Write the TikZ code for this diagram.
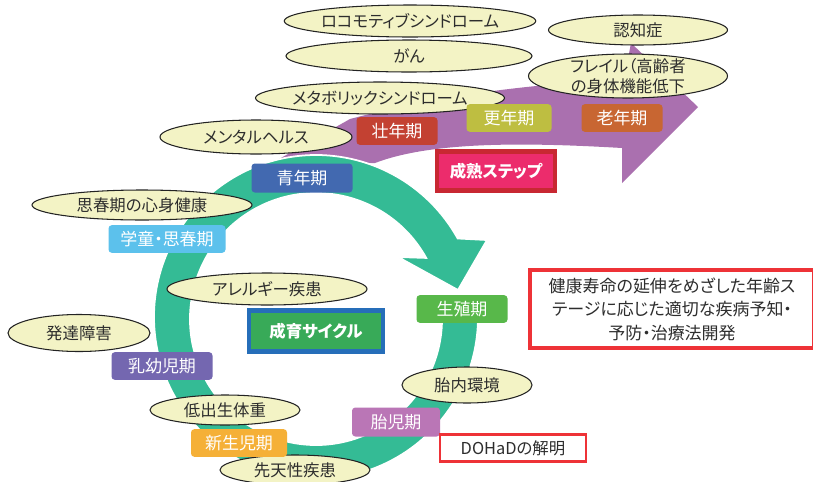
\documentclass[tikz,border=0pt]{standalone}
\usepackage{fontspec}
\setmainfont{Noto Sans CJK JP}[RawFeature=+palt]
\usepackage{tikz}
\usetikzlibrary{
  positioning,
  calc,
  shapes.geometric
}
\definecolor{CycleGreen}{RGB}{52,187,149}
\definecolor{MaturePurple}{RGB}{170,112,175}
\definecolor{PaleYellow}{RGB}{243,243,197}
\definecolor{EdgeDark}{RGB}{35,35,35}
\definecolor{TextDark}{RGB}{45,45,45}
\definecolor{AdultRed}{RGB}{195,65,50}
\definecolor{MenoOlive}{RGB}{190,190,65}
\definecolor{ElderBrown}{RGB}{200,102,50}
\definecolor{YouthBlue}{RGB}{66,105,176}
\definecolor{SchoolCyan}{RGB}{92,193,236}
\definecolor{InfantViolet}{RGB}{116,103,176}
\definecolor{NewbornOrange}{RGB}{245,176,55}
\definecolor{FetusPink}{RGB}{186,118,182}
\definecolor{ReproGreen}{RGB}{88,184,74}
\definecolor{MatureMagenta}{RGB}{236,44,108}
\definecolor{MatureFrame}{RGB}{200,40,50}
\definecolor{CycleFill}{RGB}{56,170,88}
\definecolor{CycleFrame}{RGB}{38,110,185}
\definecolor{AimRed}{RGB}{238,50,55}
\tikzset{
  stagebox/.style={rounded corners=1mm,text=white,minimum height=8.3mm,inner sep=0pt,font=\fontsize{14.5}{16}\selectfont},
  disease/.style={ellipse,draw=EdgeDark,fill=PaleYellow,line width=0.9pt,inner sep=0pt,text=TextDark,align=center,font=\fontsize{14}{17}\selectfont},
  titlebox/.style={line width=3.6pt,inner sep=0pt,text=white,font=\bfseries\fontsize{14}{16}\selectfont},
  aimbox/.style={draw=AimRed,fill=white,inner sep=0pt,text=TextDark,align=center}
}

\begin{document}
\begin{tikzpicture}[x=0.3mm,y=-0.3mm]
\useasboundingbox (0,0) rectangle (813,481);
\fill[white] (0,0) rectangle (813,481);
\coordinate (c) at (316,317);
\coordinate (ci) at (316,319);
\fill[MaturePurple] (272,163) -- (350,119) .. controls (430,98) and (520,84) .. (624,80) -- (631,43) -- (698,107) -- (622,183) -- (622,148) .. controls (520,142) and (430,142) .. (375,163) -- cycle;
\fill[CycleGreen,draw=white,line width=1.5pt] ($(c)+(-4:162)$) arc[start angle=-4,end angle=331,radius=162] -- (487,240) -- (458,290) -- (398,257) -- ($(ci)+(331:126)$) arc[start angle=331,end angle=-4,radius=126] -- cycle;

\node[disease,minimum width=74.4mm,minimum height=9.6mm] (locomo) at (410,21) {ロコモティブシンドローム};
\node[disease,minimum width=73.8mm,minimum height=9.6mm] (cancer) at (409,56) {がん};
\node[disease,minimum width=74.7mm,minimum height=9.6mm] (metabo) at (380,98) {メタボリックシンドローム};
\node[disease,minimum width=53.7mm,minimum height=9mm] (dementia) at (638,30) {認知症};
\node[disease,minimum width=59.7mm,minimum height=13.2mm,inner ysep=-3pt] (frailty) at (628,76) {フレイル（高齢者\\の身体機能低下};
\node[disease,minimum width=57.6mm,minimum height=10.2mm] (mental) at (256,137) {メンタルヘルス};
\node[disease,minimum width=66mm,minimum height=9mm] (puberty) at (142,205) {思春期の心身健康};
\node[disease,minimum width=60mm,minimum height=9.6mm] (allergy) at (267,289) {アレルギー疾患};
\node[disease,minimum width=42.6mm,minimum height=11.1mm] (devdis) at (79,333) {発達障害};
\node[disease,minimum width=45mm,minimum height=9mm] (lbw) at (225,410) {低出生体重};
\node[disease,minimum width=45mm,minimum height=9mm] (congen) at (295,470) {先天性疾患};
\node[disease,minimum width=39mm,minimum height=10.8mm] (uterine) at (467,385) {胎内環境};

\node[stagebox,fill=AdultRed,minimum width=24.3mm] (adult) at (397,131) {壮年期};
\node[stagebox,fill=MenoOlive,minimum width=25.5mm] (meno) at (509,118) {更年期};
\node[stagebox,fill=ElderBrown,minimum width=24.3mm] (elder) at (622,118) {老年期};
\node[stagebox,fill=YouthBlue,minimum width=30.3mm,minimum height=8.7mm] (youth) at (302,178) {青年期};
\node[stagebox,fill=SchoolCyan,minimum width=35.1mm] (school) at (167,239) {学童・思春期};
\node[stagebox,fill=InfantViolet,minimum width=30.3mm] (infant) at (162,366) {乳幼児期};
\node[stagebox,fill=NewbornOrange,minimum width=28.8mm] (newborn) at (239,443) {新生児期};
\node[stagebox,fill=FetusPink,minimum width=26.4mm,minimum height=8.7mm] (fetus) at (396,422) {胎児期};
\node[stagebox,fill=ReproGreen,minimum width=27.3mm] (repro) at (462,309) {生殖期};

\node[titlebox,draw=MatureFrame,fill=MatureMagenta,minimum width=35.4mm,minimum height=11.7mm] (mature) at (496,171) {成熟ステップ};
\node[titlebox,draw=CycleFrame,fill=CycleFill,minimum width=40.2mm,minimum height=12.3mm] (cycle) at (316,331) {成育サイクル};
\node[aimbox,line width=4pt,minimum width=85.2mm,minimum height=23.4mm,font=\fontsize{14.5}{20}\selectfont] (aim) at (672,309) {健康寿命の延伸をめざした年齢ス\\テージに応じた適切な疾病予知・\\予防・治療法開発};
\node[aimbox,line width=2.5pt,minimum width=43.8mm,minimum height=8.1mm,font=\fontsize{14}{16}\selectfont] (dohad) at (513,448) {DOHaDの解明};
\end{tikzpicture}
\end{document}
